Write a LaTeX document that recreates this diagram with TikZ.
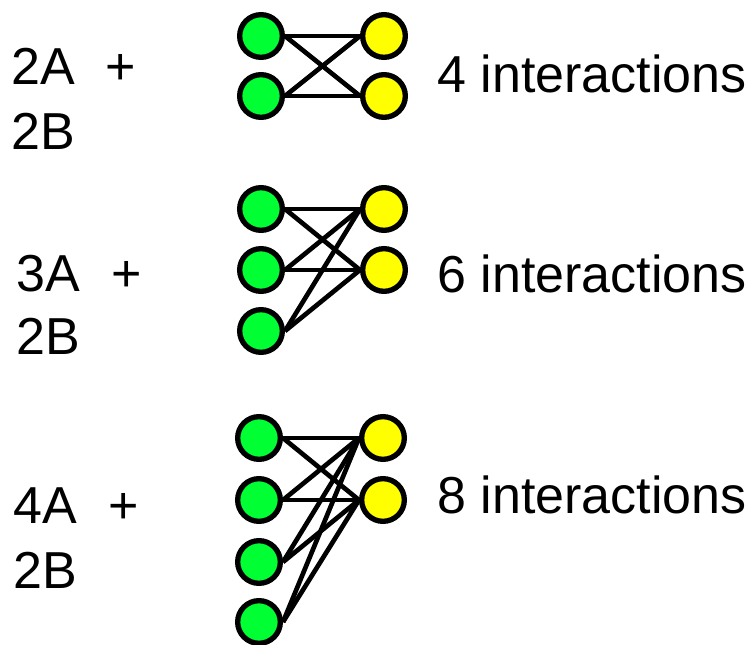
\documentclass[tikz,border=0pt]{standalone}
\usepackage{fontspec}
\setmainfont{Liberation Sans}
\usetikzlibrary{positioning}
\definecolor{atGreen}{RGB}{0,255,51}
\definecolor{atYellow}{RGB}{255,255,0}
\tikzset{
    atom/.style={circle, draw=black, line width=4pt, inner sep=0pt, minimum size=32pt},
    greenatom/.style={atom, fill=atGreen},
    yellowatom/.style={atom, fill=atYellow},
    bond/.style={line width=3.5pt, color=black},
    lbl/.style={font=\fontsize{39}{48}\selectfont, inner sep=0pt, anchor=base west},
    plus/.style={font=\fontsize{39}{48}\selectfont, inner sep=0pt, anchor=base}
}
\begin{document}
\begin{tikzpicture}[x=0.75pt, y=-0.75pt]
  \useasboundingbox (0,0) rectangle (754,645);

  % Row 1: 2A + 2B
  \node[lbl] (r1a) at (11,85) {2A};
  \node[plus] (r1p) at (121,85) {+};
  \node[lbl] (r1b) at (11,150) {2B};
  \foreach \i/\y in {1/36,2/96}
    \node[greenatom] (r1g\i) at (261,\y) {};
  \foreach \j/\y in {1/36,2/96}
    \node[yellowatom] (r1y\j) at (384,\y) {};
  \foreach \i in {1,2}
    \foreach \j in {1,2}
      \draw[bond] (r1g\i.east) -- (r1y\j.west);
  \node[lbl] (r1n) at (437,93) {4 interactions};

  % Row 2: 3A + 2B
  \node[lbl] (r2a) at (16,292) {3A};
  \node[plus] (r2p) at (127,292) {+};
  \node[lbl] (r2b) at (16,355) {2B};
  \foreach \i/\y in {1/209,2/270,3/331}
    \node[greenatom] (r2g\i) at (261,\y) {};
  \foreach \j/\y in {1/209,2/270}
    \node[yellowatom] (r2y\j) at (384,\y) {};
  \foreach \i in {1,2,3}
    \foreach \j in {1,2}
      \draw[bond] (r2g\i.east) -- (r2y\j.west);
  \node[lbl] (r2n) at (437,293) {6 interactions};

  % Row 3: 4A + 2B
  \node[lbl] (r3a) at (13,523) {4A};
  \node[plus] (r3p) at (124,523) {+};
  \node[lbl] (r3b) at (13,588) {2B};
  \foreach \i/\y in {1/438,2/500,3/562,4/622}
    \node[greenatom] (r3g\i) at (259,\y) {};
  \foreach \j/\y in {1/438,2/500}
    \node[yellowatom] (r3y\j) at (383,\y) {};
  \foreach \i in {1,2,3,4}
    \foreach \j in {1,2}
      \draw[bond] (r3g\i.east) -- (r3y\j.west);
  \node[lbl] (r3n) at (437,513) {8 interactions};
\end{tikzpicture}
\end{document}
